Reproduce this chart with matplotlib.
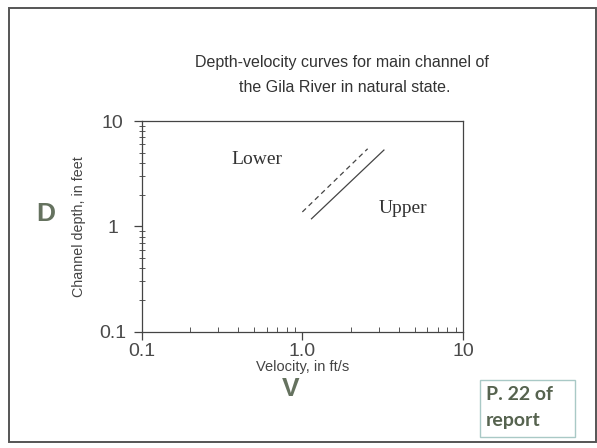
import matplotlib.pyplot as plt
from matplotlib.patches import Rectangle
from matplotlib.ticker import LogLocator, NullFormatter

plt.rcParams["font.family"] = ["Liberation Sans", "DejaVu Sans"]

# Depth-velocity curves (ft/s vs ft), read along each line's end points
lower_v = [1.0, 2.55]
lower_d = [1.37, 5.45]
upper_v = [1.14, 3.22]
upper_d = [1.18, 5.3]

x_ticks = [0.1, 1.0, 10]
x_labels = ["0.1", "1.0", "10"]
y_ticks = [0.1, 1, 10]
y_labels = ["0.1", "1", "10"]

fig = plt.figure(figsize=(5.97, 4.48), dpi=100)
fig.patch.set_facecolor("white")

# slide frame
fig.patches.append(Rectangle((9 / 597, 1 - 442 / 448), 587 / 597, 434 / 448,
                             transform=fig.transFigure, fill=False,
                             edgecolor="#555555", linewidth=1.4))

ax = fig.add_axes([0.2374, 0.2596, 0.5381, 0.4703])
ax.set_xscale("log")
ax.set_yscale("log")
ax.set_xlim(0.1, 10)
ax.set_ylim(0.1, 10)

ax.plot(lower_v, lower_d, color="#444444", linewidth=0.9, linestyle=(0, (4, 3)))
ax.plot(upper_v, upper_d, color="#444444", linewidth=0.9)

serif = "Liberation Serif"
ax.text(0.52, 4.3, "Lower", family=serif, fontsize=14, color="#333333",
        ha="center", va="center")
ax.text(4.25, 1.47, "Upper", family=serif, fontsize=14, color="#333333",
        ha="center", va="center")

for s in ax.spines.values():
    s.set_color("#444444")
    s.set_linewidth(0.9)

ax.set_xticks(x_ticks)
ax.set_xticklabels(x_labels)
ax.set_yticks(y_ticks)
ax.set_yticklabels(y_labels)
ax.xaxis.set_minor_locator(LogLocator(base=10, subs=range(2, 10)))
ax.yaxis.set_minor_locator(LogLocator(base=10, subs=range(2, 10)))
ax.xaxis.set_minor_formatter(NullFormatter())
ax.yaxis.set_minor_formatter(NullFormatter())
ax.tick_params(which="major", direction="out", length=6, width=0.9,
               color="#444444", labelsize=14, labelcolor="#4a4a4a", pad=2)
ax.tick_params(axis="x", which="minor", direction="in", length=3.5, width=0.7,
               color="#555555")
ax.tick_params(axis="y", which="minor", direction="inout", length=5, width=0.7,
               color="#555555")
for lbl in ax.get_yticklabels():
    lbl.set_horizontalalignment("center")
ax.tick_params(axis="y", which="major", pad=15)

ax.set_xlabel("Velocity, in ft/s", fontsize=10.5, color="#444444", labelpad=0)
ax.set_ylabel("Channel depth, in feet", fontsize=10.3, color="#444444",
              labelpad=9)

fig.text(342 / 597, 1 - 63 / 448, "Depth-velocity curves for main channel of",
         fontsize=11.5, color="#333333", ha="center", va="center")
fig.text(345 / 597, 1 - 87 / 448, "the Gila River in natural state.",
         fontsize=11.5, color="#333333", ha="center", va="center")

# big axis letters
fig.text(46 / 597, 1 - 214 / 448, "D", fontsize=19, fontweight="bold",
         color="#65725f", ha="center", va="center")
fig.text(291 / 597, 1 - 389 / 448, "V", fontsize=19, fontweight="bold",
         color="#65725f", ha="center", va="center")

# page reference box
fig.patches.append(Rectangle((480 / 597, 1 - 437 / 448), 95 / 597, 57 / 448,
                             transform=fig.transFigure, fill=False,
                             edgecolor="#a9c9c6", linewidth=1.0))
fig.text(486 / 597, 1 - 394 / 448, "P. 22 of", family="Lato", fontsize=14,
         fontweight="bold", color="#56634f", ha="left", va="center")
fig.text(486 / 597, 1 - 420 / 448, "report", family="Lato", fontsize=14,
         fontweight="bold", color="#56634f", ha="left", va="center")

fig.savefig("out.png", dpi=100)
